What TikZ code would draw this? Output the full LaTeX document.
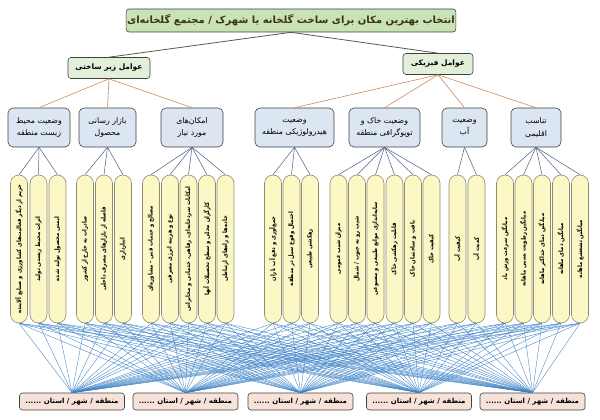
\documentclass[tikz,border=0pt]{standalone}
\usepackage{fontspec}
\usepackage{tikz}
\newfontfamily\arabicfont[Script=Arabic]{DejaVu Sans}
\newfontfamily\pillfont[Script=Arabic,FakeStretch=0.85]{DejaVu Sans}
\TeXXeTstate=1
\newcommand{\fa}[1]{\beginR #1\endR}

\begin{document}
\begin{tikzpicture}
		[x=1pt,y=-1pt,line join=round,
		%Styles
		box/.style={draw=black!75,line width=0.6pt,rounded corners=3pt,inner sep=1pt},
		title node/.style={box,fill=titlefill,text=titletext,font=\arabicfont\bfseries\fontsize{10}{12}\selectfont,minimum width=326pt,minimum height=23pt},
		factor node/.style={box,fill=factorfill,font=\arabicfont\bfseries\fontsize{7.5}{9}\selectfont,minimum height=21pt},
		group node/.style={box,fill=groupfill,font=\arabicfont\fontsize{7.8}{12.5}\selectfont,align=center,minimum height=39pt,rounded corners=5pt},
		item node/.style={draw=pillborder,line width=0.6pt,fill=pillfill,rounded corners=8.5pt,rotate=90,minimum width=148pt,minimum height=17pt,inner sep=1pt,font=\pillfont\bfseries\fontsize{6.2}{7}\selectfont},
		place node/.style={box,fill=placefill,font=\arabicfont\bfseries\fontsize{7}{8}\selectfont,minimum width=105pt,minimum height=17pt},
		title line/.style={draw=titleline,line width=0.8pt},
		factor line/.style={draw=factorline,line width=0.6pt},
		group line/.style={draw=groupline,line width=0.5pt},
		link line/.style={draw=linkline,line width=0.35pt}
		]
		
		%Colors
		\definecolor{titlefill}{HTML}{C9E2B8}
		\definecolor{titletext}{HTML}{3F3310}
		\definecolor{factorfill}{HTML}{E3F0D9}
		\definecolor{groupfill}{HTML}{DCE6F2}
		\definecolor{pillfill}{HTML}{FCF8C6}
		\definecolor{pillborder}{HTML}{8E8C6C}
		\definecolor{placefill}{HTML}{F6E2D9}
		\definecolor{titleline}{HTML}{4E5E48}
		\definecolor{factorline}{HTML}{D08B5B}
		\definecolor{groupline}{HTML}{4C5A86}
		\definecolor{linkline}{HTML}{3C82C6}
		
		\useasboundingbox (0,0) rectangle (600,420);
		
		%The graphic
		\node[title node] (T) at (291,20.5) {\fa{انتخاب بهترین مکان برای ساخت گلخانه یا شهرک / مجتمع گلخانه‌ای}};
		
		\node[factor node,minimum width=82pt] (F1) at (109,68) {\fa{عوامل زیر ساختی}};
		\node[factor node,minimum width=70pt] (F2) at (438,64) {\fa{عوامل فیزیکی}};
		
		\node[group node,minimum width=62pt] (G1) at (39,127.5) {\fa{وضعیت محیط}\\\fa{زیست منطقه}};
		\node[group node,minimum width=57pt] (G2) at (107.5,127.5) {\fa{بازار رسانی}\\\fa{محصول}};
		\node[group node,minimum width=62pt] (G3) at (192,127.5) {\fa{امکان‌های}\\\fa{مورد نیاز}};
		\node[group node,minimum width=79pt] (G4) at (294.5,127.5) {\fa{وضعیت}\\\fa{هیدرولوژیکی منطقه}};
		\node[group node,minimum width=71pt] (G5) at (384.5,127.5) {\fa{وضعیت خاک و}\\\fa{توپوگرافی منطقه}};
		\node[group node,minimum width=45pt] (G6) at (464.5,127.5) {\fa{وضعیت}\\\fa{آب}};
		\node[group node,minimum width=50pt] (G7) at (536,127.5) {\fa{تناسب}\\\fa{اقلیمی}};
		
		\path[title line] (T.south) -- (F1.north) (T.south) -- (F2.north);
		\foreach \g in {G1,G2,G3}
			\path[factor line] (F1.south) -- (\g.north);
		\foreach \g in {G4,G5,G6,G7}
			\path[factor line] (F2.south) -- (\g.north);
		
		\foreach \x/\g/\t [count=\i] in {
				19/G1/{حریم از دیگر فعالیت‌های کشاورزی و صنایع آلاینده},
				38.5/G1/{اثرات محیط زیستی تولید},
				57.5/G1/{ایمنی محصول تولید شده},
				85/G2/{صادرات به خارج از کشور},
				104/G2/{فاصله از بازارهای مصرف داخلی},
				123/G2/{انبارداری},
				151/G3/{مصالح و خدمات فنی - مشاوره‌ای},
				170/G3/{نوع و هزینه انرژی مصرفی},
				188.5/G3/{امکانات سردخانه‌ای، رفاهی، خدماتی و مخابراتی},
				207/G3/{کارگران محلی و سطح تحصیلات آنها},
				225.5/G3/{جاده‌ها و راه‌های ارتباطی},
				273/G4/{جمع‌آوری و دفع آب باران},
				291.5/G4/{احتمال وقوع سیل در منطقه},
				310/G4/{زهکشی طبیعی},
				338.5/G5/{میزان شیب عمومی},
				357/G5/{شیب رو به جنوب / شمال},
				375.5/G5/{سایه‌اندازی موانع طبیعی و مصنوعی},
				394.5/G5/{قابلیت زهکشی خاک},
				413/G5/{بافت و ساختمان خاک},
				431.5/G5/{کیفیت خاک},
				457.5/G6/{کیفیت آب},
				476.5/G6/{کمیت آب},
				505/G7/{میانگین سرعت وزش باد},
				523.5/G7/{میانگین رطوبت نسبی ماهانه},
				542/G7/{میانگین دمای حداکثر ماهانه},
				561/G7/{میانگین دمای ماهانه},
				580/G7/{میانگین تشعشع ماهانه}}
		{
			\node[item node] (P\i) at (\x,249) {\fa{\t}};
			\path[group line] (\g.south) -- (P\i.east);
		}
		
		\foreach \x [count=\j] in {72,185.5,300.5,419,532.5}
			\node[place node] (B\j) at (\x,401.5) {\fa{منطقه / شهر / استان ......}};
		
		\foreach \i in {1,...,27}
			\foreach \j in {1,...,5}
				\path[link line] (P\i.west) -- (B\j.north);
	\end{tikzpicture}
\end{document}
